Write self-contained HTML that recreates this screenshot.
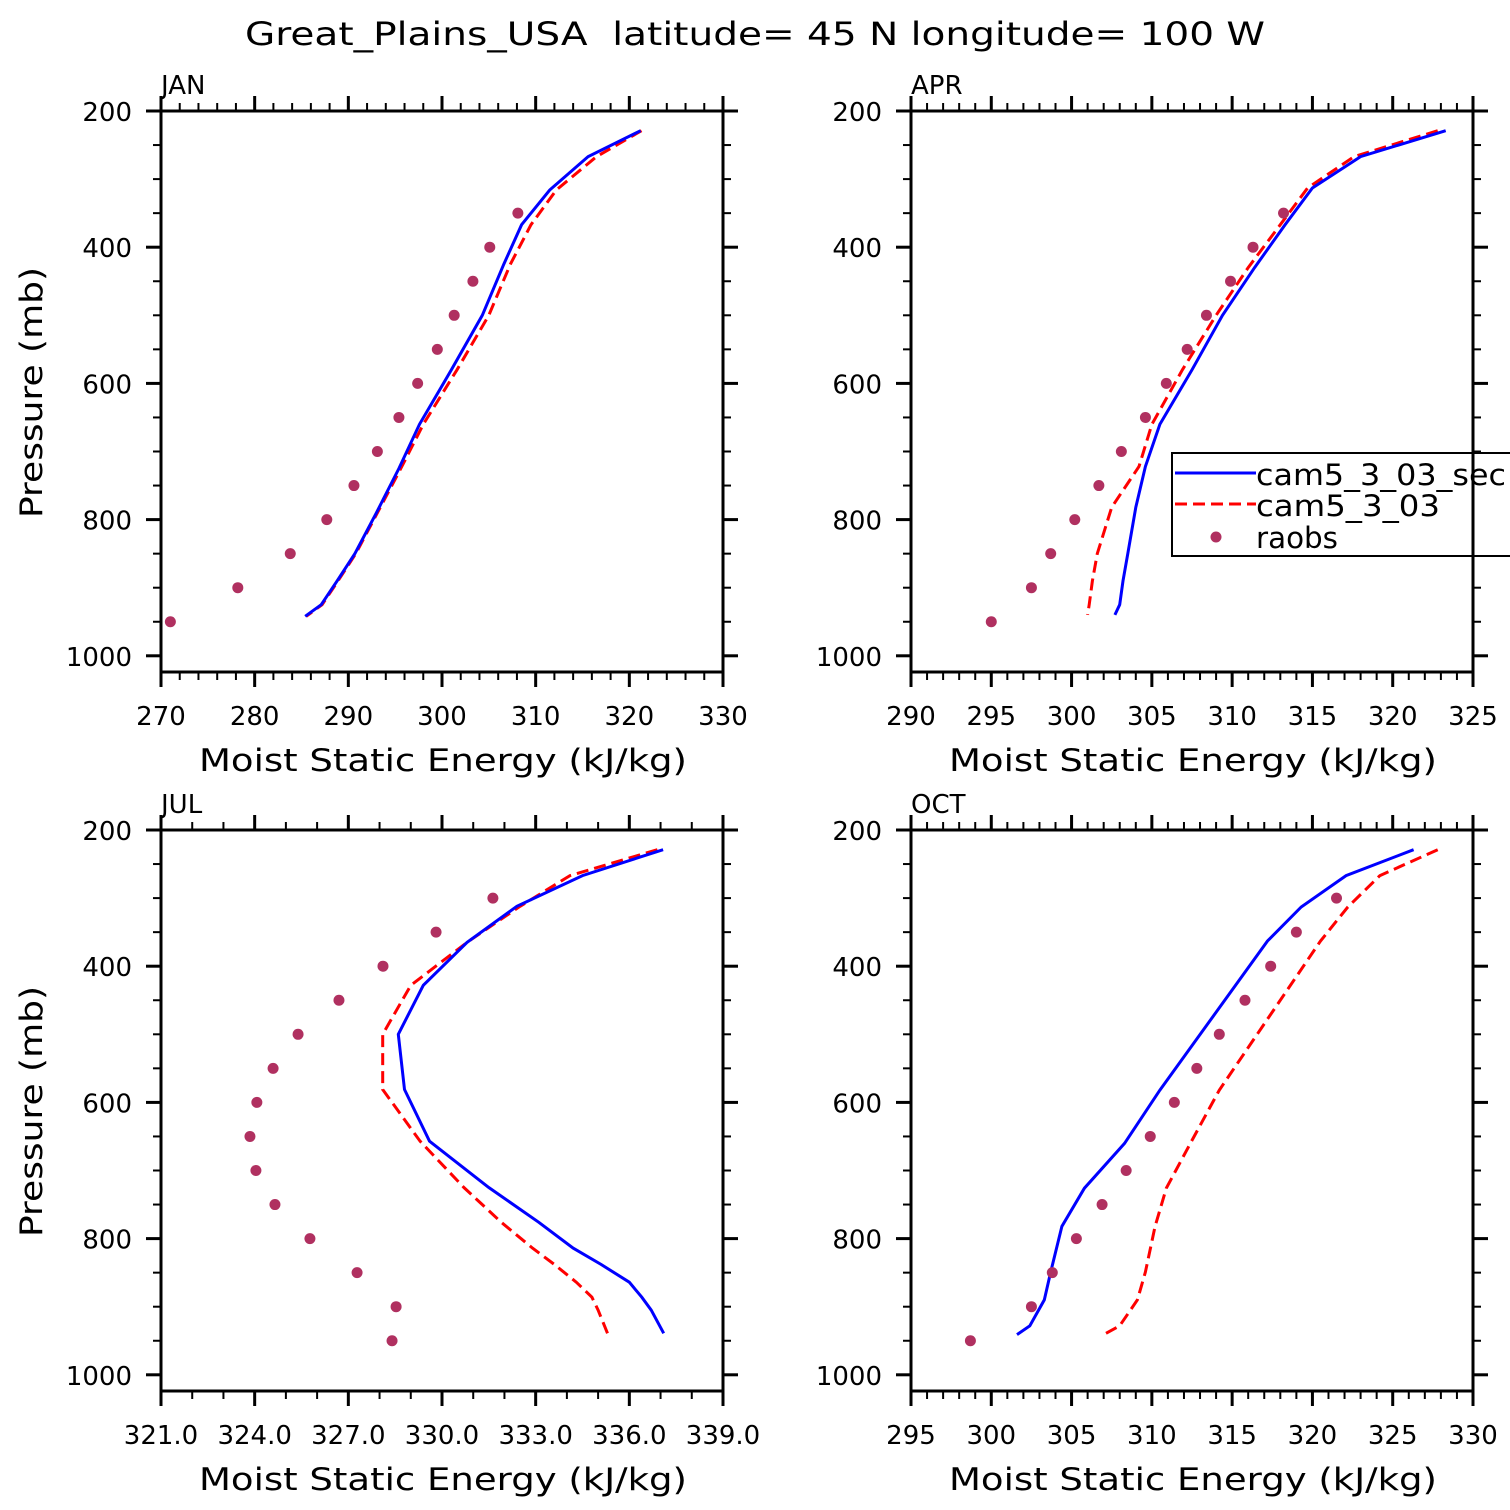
<!DOCTYPE html>
<html><head><meta charset="utf-8"><style>
html,body{margin:0;padding:0;background:#fff;}
svg{display:block;font-family:"DejaVu Sans","Liberation Sans",sans-serif;}
</style></head><body>
<svg id="c" width="1510" height="1510" xmlns="http://www.w3.org/2000/svg">
<text x="245" y="45" font-size="32" textLength="1020" lengthAdjust="spacingAndGlyphs" xml:space="preserve">Great_Plains_USA  latitude= 45 N longitude= 100 W</text>
</svg>
<script>
// JAN
const janLevels=[229,267,316,367,425,500,580,660,725,790,850,890,925,942];
const janBlue=[321.2,315.6,311.5,308.5,306.6,304.3,301.0,297.6,295.4,293.0,290.7,288.8,287.1,285.4];
const janRed=[321.3,316.5,312.2,309.5,307.3,305.0,301.6,298.0,295.6,293.1,290.8,288.9,287.2,285.5];
const obsLevels=[350,400,450,500,550,600,650,700,750,800,850,900,950];
const janObs=[308.1,305.1,303.3,301.3,299.5,297.4,295.4,293.1,290.6,287.7,283.8,278.2,271.0];
// APR
const aprLevels=[229,267,313,367,430,500,580,660,722,782,850,890,925,940];
const aprBlue=[323.3,318.0,315.0,313.3,311.4,309.4,307.5,305.5,304.6,304.0,303.5,303.2,303.0,302.7];
const aprRed=[322.8,317.6,314.7,313.0,311.0,309.0,306.9,305.0,304.2,302.5,301.6,301.3,301.1,301.0];
const aprObs=[313.2,311.3,309.9,308.4,307.2,305.9,304.6,303.1,301.7,300.2,298.7,297.5,295.0];
// JUL
const julLevels=[229,267,312,365,428,500,581,657,725,776,814,838,864,886,905,939];
const julBlue=[337.08,334.5,332.4,330.8,329.4,328.6,328.8,329.6,331.5,333.1,334.2,335.1,336.0,336.4,336.7,337.1];
const julRed=[336.9,334.1,332.5,330.8,329.0,328.1,328.1,329.3,330.7,331.9,332.9,333.6,334.3,334.8,335.0,335.3];
const obsLevels2=[300,350,400,450,500,550,600,650,700,750,800,850,900,950];
const julObs=[331.63,329.81,328.11,326.70,325.39,324.59,324.07,323.85,324.04,324.65,325.77,327.28,328.53,328.40];
// OCT
const octLevels=[229,267,313,363,582,660,726,782,849,890,928,941];
const octBlue=[326.3,322.1,319.3,317.2,310.5,308.3,305.8,304.4,303.7,303.3,302.4,301.6];
const octRed=[327.8,324.2,322.2,320.5,314.2,312.4,310.9,310.2,309.6,309.1,308.0,307.0];
const octObs=[321.5,319.0,317.4,315.8,314.2,312.8,311.4,309.9,308.4,306.9,305.3,303.8,302.5,298.7];
const yTicks=[200,400,600,800,1000];

const NS="http://www.w3.org/2000/svg";
const svg=document.getElementById('c');
function el(tag,attrs,parent){const e=document.createElementNS(NS,tag);for(const k in attrs)e.setAttribute(k,attrs[k]);(parent||svg).appendChild(e);return e;}

function panel(o){
  const g=el('g',{});
  
  
  const L=o.left,R=o.left+562,T=o.top,B=o.top+561;
  const xs=v=>L+(v-o.xmin)/(o.xmax-o.xmin)*(R-L);
  const ys=p=>T+(p-200)/100*68.1;
  for(let v=o.xmin;v<=o.xmax+1e-9;v+=o.minor){
    const major=Math.abs(((v-o.xmin)/o.major)-Math.round((v-o.xmin)/o.major))<1e-6;
    const len=major?15:8,x=xs(v);
    el('line',{x1:x,x2:x,y1:B,y2:B+len,stroke:'#000','stroke-width':major?3:2},g);
    el('line',{x1:x,x2:x,y1:T,y2:T-len,stroke:'#000','stroke-width':major?3:2},g);
    if(major){const t=el('text',{x:x,y:B+53,'text-anchor':'middle','font-size':26},g);t.textContent=o.fmt(v);
      }
  }
  for(let p=200;p<=1000;p+=50){
    const major=p%200===0,len=major?15:8,y=ys(p);
    el('line',{x1:L,x2:L-len,y1:y,y2:y,stroke:'#000','stroke-width':major?3:2},g);
    el('line',{x1:R,x2:R+len,y1:y,y2:y,stroke:'#000','stroke-width':major?3:2},g);
  }
  yTicks.forEach(p=>{const t=el('text',{x:L-29,y:ys(p)+10,'text-anchor':'end','font-size':26},g);t.textContent=p;
    });
  const fr=el('rect',{x:L,y:T,width:R-L,height:B-T,fill:'none',stroke:'#000','stroke-width':3},g);
  
  const lab=el('text',{x:L,y:T-17,'font-size':26},g);lab.textContent=o.label;
  
  const xt=el('text',{x:L+38,y:B+99,'font-size':31,textLength:488,lengthAdjust:'spacingAndGlyphs'},g);xt.textContent='Moist Static Energy (kJ/kg)';
  
  if(o.ytitle){const yt=el('text',{x:0,y:0,'font-size':31,textLength:251,lengthAdjust:'spacingAndGlyphs',transform:`translate(42,${T+407}) rotate(-90)`},g);yt.textContent='Pressure (mb)';
    }
  const pts=(lv,vals)=>lv.map((p,i)=>xs(vals[i]).toFixed(1)+','+ys(p).toFixed(1)).join(' ');
  const r=el('polyline',{points:pts(o.levels,o.red),fill:'none',stroke:'#f00','stroke-width':3,'stroke-dasharray':'12,6'},g);
  
  const b=el('polyline',{points:pts(o.levels,o.blue),fill:'none',stroke:'#00f','stroke-width':3},g);
  
  o.obsLevels.forEach((p,i)=>{const c=el('circle',{cx:xs(o.obs[i]),cy:ys(p),r:5.5,fill:'#b03060'},g);
    });
}
const f0=v=>String(Math.round(v)), f1=v=>v.toFixed(1);
panel({name:'jan',label:'JAN',left:161,top:111,xmin:270,xmax:330,major:10,minor:2,fmt:f0,ytitle:true,levels:janLevels,blue:janBlue,red:janRed,obsLevels:obsLevels,obs:janObs});
panel({name:'apr',label:'APR',left:911,top:111,xmin:290,xmax:325,major:5,minor:1,fmt:f0,ytitle:false,levels:aprLevels,blue:aprBlue,red:aprRed,obsLevels:obsLevels,obs:aprObs});
panel({name:'jul',label:'JUL',left:161,top:830,xmin:321,xmax:339,major:3,minor:1,fmt:f1,ytitle:true,levels:julLevels,blue:julBlue,red:julRed,obsLevels:obsLevels2,obs:julObs});
panel({name:'oct',label:'OCT',left:911,top:830,xmin:295,xmax:330,major:5,minor:1,fmt:f0,ytitle:false,levels:octLevels,blue:octBlue,red:octRed,obsLevels:obsLevels2,obs:octObs});

const lg=el('g',{});


el('rect',{x:1172,y:453,width:360,height:103,fill:'#fff',stroke:'#000','stroke-width':2},lg);
el('line',{x1:1175,x2:1256,y1:473,y2:473,stroke:'#00f','stroke-width':3},lg);
el('line',{x1:1175,x2:1256,y1:504,y2:504,stroke:'#f00','stroke-width':3,'stroke-dasharray':'12,6'},lg);
el('circle',{cx:1216,cy:537,r:5.5,fill:'#b03060'},lg);
[['cam5_3_03_sec',485,250],['cam5_3_03',516,184],['raobs',548,82]].forEach(([t,y,w])=>{const e=el('text',{x:1256,y:y,'font-size':29,textLength:w,lengthAdjust:'spacingAndGlyphs'},lg);e.textContent=t;
  });
el('line',{x1:1473,x2:1473,y1:453,y2:556,stroke:'#000','stroke-width':3},lg);
</script>
</body></html>
